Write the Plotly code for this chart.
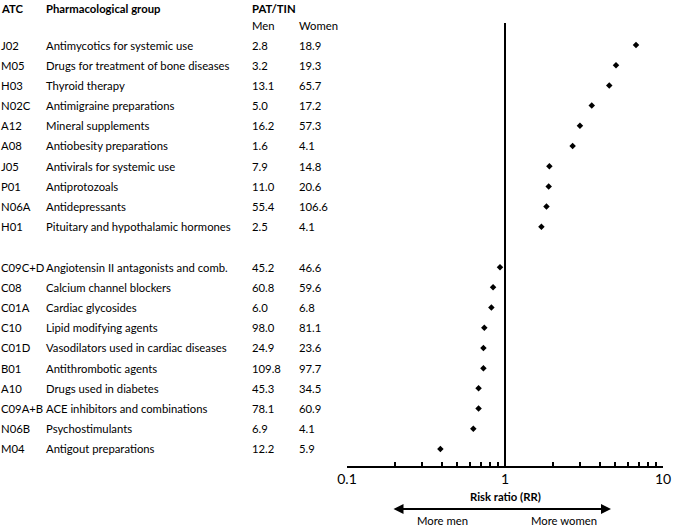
import math
import plotly.graph_objects as go

# ---------------- data ----------------
atc = ["J02", "M05", "H03", "N02C", "A12", "A08", "J05", "P01", "N06A", "H01",
       "C09C+D", "C08", "C01A", "C10", "C01D", "B01", "A10", "C09A+B", "N06B", "M04"]
groups = ["Antimycotics for systemic use", "Drugs for treatment of bone diseases",
          "Thyroid therapy", "Antimigraine preparations", "Mineral supplements",
          "Antiobesity preparations", "Antivirals for systemic use", "Antiprotozoals",
          "Antidepressants", "Pituitary and hypothalamic hormones",
          "Angiotensin II antagonists and comb.", "Calcium channel blockers",
          "Cardiac glycosides", "Lipid modifying agents",
          "Vasodilators used in cardiac diseases", "Antithrombotic agents",
          "Drugs used in diabetes", "ACE inhibitors and combinations",
          "Psychostimulants", "Antigout preparations"]
men = [2.8, 3.2, 13.1, 5.0, 16.2, 1.6, 7.9, 11.0, 55.4, 2.5,
       45.2, 60.8, 6.0, 98.0, 24.9, 109.8, 45.3, 78.1, 6.9, 12.2]
women = [18.9, 19.3, 65.7, 17.2, 57.3, 4.1, 14.8, 20.6, 106.6, 4.1,
         46.6, 59.6, 6.8, 81.1, 23.6, 97.7, 34.5, 60.9, 4.1, 5.9]
rr = [6.75, 5.04, 4.57, 3.54, 2.98, 2.68, 1.91, 1.89, 1.83, 1.70,
      0.93, 0.84, 0.82, 0.74, 0.73, 0.73, 0.68, 0.68, 0.63, 0.39]
section = [1] * 10 + [2] * 10
major_ticks = [0.1, 1, 10]
tick_labels = ["0.1", "1", "10"]
ref_rr = 1

# row index (blank row between sections)
rows = [i + (s - 1) for i, s in enumerate(section)]

W, H = 675, 526
FONT = "Lato"

fig = go.Figure()
fig.add_trace(go.Scatter(
    x=rr, y=rows, mode="markers",
    marker=dict(symbol="diamond", size=5, color="black"),
    showlegend=False, hoverinfo="x", cliponaxis=False))

# all ticks (minor ones unlabeled)
tickvals, ticktext = [], []
for d in [0.1, 1]:
    for k in range(1, 10):
        v = round(d * k, 3)
        tickvals.append(v)
        ticktext.append(tick_labels[major_ticks.index(v)] if v in major_ticks else "")
tickvals.append(10)
ticktext.append("10")

def px(xp):
    return xp / W

def py(yp):
    return (H - yp) / H

ann = []
def txt(x, y, s, bold=False, yref="y", size=11.3):
    ann.append(dict(x=x, y=y, xref="paper", yref=yref, text=("<b>%s</b>" % s) if bold else s,
                    showarrow=False, xanchor="left", yanchor="middle",
                    font=dict(family=FONT, size=size, color="black")))

# headers
txt(px(-1), py(9), "ATC", bold=True, yref="paper")
txt(px(44), py(9), "Pharmacological group", bold=True, yref="paper")
txt(px(250), py(9), "PAT/TIN", bold=True, yref="paper")
txt(px(250), py(26), "Men", yref="paper")
txt(px(297), py(26), "Women", yref="paper")

for a, g, m, w, r in zip(atc, groups, men, women, rows):
    txt(px(-1), r, a)
    txt(px(44), r, g)
    txt(px(250), r, "%.1f" % m)
    txt(px(297), r, "%.1f" % w)

# axis title & arrow
ann.append(dict(x=math.log10(ref_rr), xref="x", y=py(496), yref="paper",
                text="<b>Risk ratio (RR)</b>",
                showarrow=False, xanchor="center", yanchor="middle",
                font=dict(family=FONT, size=11.3, color="black")))
ann.append(dict(x=px(611), y=py(509), xref="paper", yref="paper", text="",
                showarrow=True, ax=-219, ay=0, axref="pixel", ayref="pixel",
                arrowhead=2, arrowside="end+start", arrowsize=1, arrowwidth=2,
                arrowcolor="black"))
ann.append(dict(x=px(442), y=py(520), xref="paper", yref="paper", text="More men",
                showarrow=False, xanchor="center", yanchor="middle",
                font=dict(family=FONT, size=11.3, color="black")))
ann.append(dict(x=px(564), y=py(520), xref="paper", yref="paper", text="More women",
                showarrow=False, xanchor="center", yanchor="middle",
                font=dict(family=FONT, size=11.3, color="black")))

axis_y = 465.5
fig.update_layout(
    template="none",
    autosize=False,
    width=W, height=H,
    margin=dict(l=0, r=0, t=0, b=0, pad=0, autoexpand=False),
    paper_bgcolor="white", plot_bgcolor="white",
    xaxis=dict(type="log", range=[-1, 1], domain=[347 / W, 663 / W],
               automargin=False,
               showline=True, linecolor="black", linewidth=2,
               ticks="inside", ticklen=4, tickwidth=1.5, tickcolor="black",
               tickvals=tickvals, ticktext=ticktext,
               tickfont=dict(family=FONT, size=14, color="black"),
               showgrid=False, zeroline=False, fixedrange=True),
    yaxis=dict(visible=False, automargin=False, domain=[(H - axis_y) / H, 1],
               range=[20.82, -2.228], showgrid=False, zeroline=False, fixedrange=True),
    annotations=ann,
    shapes=[dict(type="line", xref="x", x0=ref_rr, x1=ref_rr, yref="paper",
                 y0=(H - axis_y) / H, y1=py(23), line=dict(color="black", width=2))],
)

fig.write_html("out.html",
               config={"displayModeBar": False, "responsive": False},
               post_script=("document.documentElement.style.overflow='hidden';"
                            "document.body.style.overflow='hidden';"
                            "document.body.style.margin='0';"
                            "document.body.style.padding='0';"))
